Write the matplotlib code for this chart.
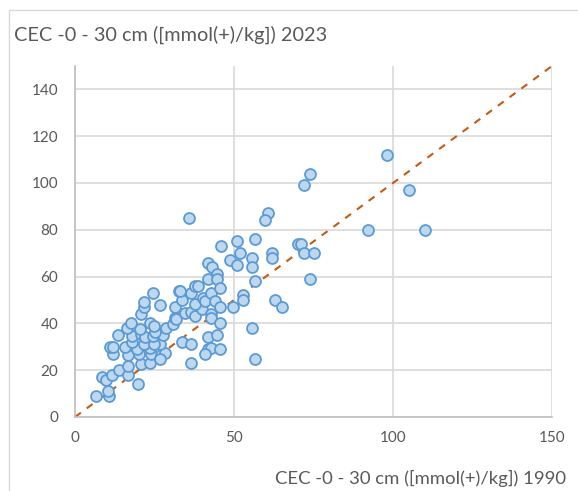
import matplotlib.pyplot as plt
import matplotlib.patches as mpatches
import numpy as np

# CEC 0-30 cm, 1990 (x) vs 2023 (y)
cec_1990 = [6.6, 10.7, 10.5, 8.6, 9.7, 11.5, 13.7, 16.6, 19.7, 16.7, 20.7, 23.5,
            16.7, 20.0, 24.0, 27.2, 28.2, 26.7, 12.0, 11.0, 12.0, 15.7, 19.5, 23.7,
            26.7, 21.7, 24.8, 17.8, 13.6, 17.8, 20.9, 22.0, 24.6, 27.7, 16.5, 20.4,
            25.1, 28.6, 17.5, 23.5, 24.9, 20.6, 21.7, 21.7, 26.7, 24.6, 30.9, 31.4,
            31.9, 31.4, 32.6, 33.7, 33.0, 34.5, 36.6, 37.7, 36.6, 37.7, 38.7, 39.8,
            37.7, 40.3, 40.8, 41.8, 41.7, 43.0, 44.5, 44.5, 42.9, 43.9, 45.5, 45.5,
            42.9, 42.9, 45.5, 33.8, 36.6, 41.8, 44.5, 41.8, 42.9, 45.5, 40.8, 36.6,
            35.7, 45.8, 50.8, 56.7, 48.7, 50.8, 51.9, 55.7, 55.7, 56.7, 60.8, 59.8,
            61.8, 61.8, 52.9, 52.9, 49.8, 62.9, 65.0, 55.8, 56.7, 70.0, 71.0, 72.0,
            75.0, 74.0, 72.0, 74.0, 98.0, 105.0, 92.0, 110.0]
cec_2023 = [9, 9, 11, 17, 16, 18, 20, 18, 14, 22, 22.5, 23,
            26.5, 27, 27, 26.5, 27.5, 25, 27, 30, 30, 30, 29, 29.5,
            31, 31, 31, 32, 35, 34.6, 35.3, 34.3, 34.6, 35, 38, 37.5,
            36.5, 38, 40, 40, 39, 44, 47, 49, 48, 53, 39.6, 42.4,
            41.7, 47, 54, 50, 54, 44.5, 45, 43, 53, 56, 56, 46,
            48.4, 51, 49.5, 59, 66, 64, 61.3, 59, 53, 49.5, 55, 47,
            44, 42.4, 40, 32, 31, 34, 35, 29, 29.4, 29, 26.8, 23,
            85, 73, 75, 76, 67, 65, 70, 68, 64, 58, 87, 84,
            70, 68, 52, 50, 47, 50, 47, 38, 25, 74, 74, 70,
            70, 59, 99, 104, 112, 97, 80, 80]

title_text = "CEC -0 - 30 cm ([mmol(+)/kg]) 2023"
xlabel_text = "CEC -0 - 30 cm ([mmol(+)/kg]) 1990"
x_ticks = [0, 50, 100, 150]
y_ticks = [0, 20, 40, 60, 80, 100, 120, 140]

plt.rcParams["font.family"] = ["Lato", "DejaVu Sans"]
grey_text = "#595959"

W, H = 578, 491
fig = plt.figure(figsize=(W / 100, H / 100), dpi=100)

# chart frame (only top and left edges visible in the crop)
fig.patches.append(mpatches.Rectangle((9 / W, -0.1), 1.2, 1.1 - 10 / H,
                                      transform=fig.transFigure, fill=False,
                                      edgecolor="#D9D9D9", lw=1.0))

ax = fig.add_axes([75 / W, (H - 417) / H, (552 - 75) / W, (417 - 66) / H])
ax.set_xlim(0, 150)
ax.set_ylim(0, 150)
ax.set_xticks(x_ticks)
ax.set_yticks(y_ticks)
ax.grid(True, color="#D9D9D9", lw=1.2)
ax.set_axisbelow(True)
for side in ["top", "right"]:
    ax.spines[side].set_visible(False)
for side in ["left", "bottom"]:
    ax.spines[side].set_color("#BFBFBF")
    ax.spines[side].set_linewidth(1.2)
ax.tick_params(length=0, labelsize=11, colors=grey_text, pad=12)
ax.tick_params(axis="x", pad=10)

ax.plot([0, 150], [0, 150], color="#C55A11", lw=1.5, ls=(0, (3.5, 3.5)), zorder=2)
ax.scatter(cec_1990, cec_2023, s=62, facecolor="#BDD7EE", edgecolor="#5B9BD5",
           linewidths=1.3, zorder=3)

fig.text(14 / W, 1 - 35 / H, title_text, fontsize=14.3, color=grey_text,
         ha="left", va="center")
fig.text(566 / W, 1 - 478 / H, xlabel_text, fontsize=13.3, color=grey_text,
         ha="right", va="center")

fig.savefig("out.png", dpi=100)
